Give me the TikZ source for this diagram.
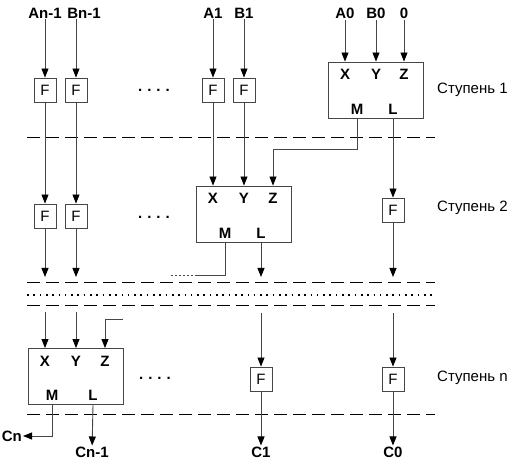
\documentclass[tikz,border=0pt]{standalone}
\usepackage{fontspec}
\setmainfont{Liberation Sans}
\usetikzlibrary{arrows.meta}
\definecolor{wiregray}{RGB}{70,70,70}
\newcommand{\fsz}{\fontsize{15}{17}\selectfont}
\tikzset{
  fbox/.style={draw=wiregray,line width=0.9pt,minimum width=22pt,minimum height=24pt,inner sep=0pt,font=\fsz},
  blk/.style={draw=wiregray,line width=0.9pt,minimum width=95pt,minimum height=56pt,inner sep=0pt},
  sig/.style={inner sep=1pt,font=\fsz\bfseries},
  port/.style={inner sep=0pt,font=\fsz\bfseries},
  stage/.style={anchor=west,inner sep=0pt,font=\fsz},
  dots/.style={inner sep=0pt,font=\fsz\bfseries},
  wire/.style={draw=wiregray,line width=0.9pt},
  arr/.style={wire,-{Triangle[length=9pt,width=7pt,color=black]}},
  sep/.style={draw=black,line width=1pt,dash pattern=on 12.5pt off 6.5pt},
  gap/.style={draw=black,line width=1.6pt,dash pattern=on 1.6pt off 4.7pt},
}
\begin{document}
\begin{tikzpicture}[x=1pt,y=-1pt]
\useasboundingbox (0,0) rectangle (520,462);
% input signals
\node[sig] (an) at (45,13) {An-1};
\node[sig] (bn) at (84,13) {Bn-1};
\node[sig] (a1) at (213,13) {A1};
\node[sig] (b1) at (244,13) {B1};
\node[sig] (a0) at (345,13) {A0};
\node[sig] (b0) at (376,13) {B0};
\node[sig] (zero) at (404,13) {0};

% stage 1
\node[fbox] (f1a) at (45,90) {F};
\node[fbox] (f1b) at (76,90) {F};
\node[fbox] (f1c) at (213,90) {F};
\node[fbox] (f1d) at (244,90) {F};
\node[dots] (d1) at (154,90) {.\hspace{5pt}.\hspace{5pt}.\hspace{5pt}.};
\node[blk] (s1) at (375.5,90) {};
\node[port] (s1x) at (345,74) {X};
\node[port] (s1y) at (376,74) {Y};
\node[port] (s1z) at (404,74) {Z};
\node[port] (s1m) at (357,109) {M};
\node[port] (s1l) at (393,109) {L};
\node[stage] at (437,90) {Ступень 1};
\draw[arr] (an) -- (f1a);
\draw[arr] (f1b |- bn.south) -- (f1b);
\draw[arr] (a1) -- (f1c);
\draw[arr] (b1) -- (f1d);
\draw[arr] (a0) -- (a0 |- s1.north);
\draw[arr] (b0) -- (b0 |- s1.north);
\draw[arr] (zero) -- (zero |- s1.north);

\draw[sep] (27,138) -- (435,138);

% stage 2
\node[fbox] (f2a) at (45,216) {F};
\node[fbox] (f2b) at (76,216) {F};
\node[fbox] (f2c) at (393,210) {F};
\node[dots] (d2) at (154,217) {.\hspace{5pt}.\hspace{5pt}.\hspace{5pt}.};
\node[blk] (s2) at (243.5,214) {};
\node[port] (s2x) at (213,198) {X};
\node[port] (s2y) at (244,198) {Y};
\node[port] (s2z) at (273,198) {Z};
\node[port] (s2m) at (225,233) {M};
\node[port] (s2l) at (261,233) {L};
\node[stage] at (437,208) {Ступень 2};
\draw[arr] (f1a) -- (f2a);
\draw[arr] (f1b) -- (f2b);
\draw[arr] (f1c) -- (f1c |- s2.north);
\draw[arr] (f1d) -- (f1d |- s2.north);
\draw[arr] (s1m |- s1.south) -- ++(0,31) -| (s2z |- s2.north);
\draw[arr] (s1l |- s1.south) -- (f2c);
\coordinate (e2a) at (45,277);
\coordinate (e2b) at (76,277);
\coordinate (e2c) at (393,277);
\coordinate (e2l) at (261,277);
\coordinate (m2) at (197,275);
\coordinate (m2end) at (170,275);
\draw[arr] (f2a) -- (e2a);
\draw[arr] (f2b) -- (e2b);
\draw[arr] (f2c) -- (e2c);
\draw[arr] (s2l |- s2.south) -- (e2l);
\draw[wire] (s2m |- s2.south) |- (m2);
\draw[wire,line width=0.7pt,dash pattern=on 2.5pt off 1.5pt] (m2) -- (m2end);

\draw[sep] (27,283) -- (435,283);
\draw[gap] (27,295) -- (435,295);
\draw[sep] (27,306) -- (435,306);

% stage n
\node[blk] (s3) at (76,376.5) {};
\node[port] (s3x) at (45,361) {X};
\node[port] (s3y) at (76,361) {Y};
\node[port] (s3z) at (105,361) {Z};
\node[port] (s3m) at (52,395) {M};
\node[port] (s3l) at (93,395) {L};
\node[fbox] (f3a) at (261,379) {F};
\node[fbox] (f3b) at (393,379) {F};
\node[dots] (d3) at (155,378) {.\hspace{5pt}.\hspace{5pt}.\hspace{5pt}.};
\node[stage] at (437,378) {Ступень n};
\coordinate (i3a) at (45,312);
\coordinate (i3b) at (76,312);
\coordinate (i3z) at (123,319);
\coordinate (i3c) at (261,313);
\coordinate (i3d) at (393,313);
\draw[arr] (i3a) -- (i3a |- s3.north);
\draw[arr] (i3b) -- (i3b |- s3.north);
\draw[arr] (i3z) -| (s3z |- s3.north);
\draw[arr] (i3c) -- (f3a);
\draw[arr] (i3d) -- (f3b);

\draw[sep] (27,415) -- (435,415);

% outputs
\node[sig,anchor=east] (cn) at (23,436) {Cn};
\node[sig] (cn1) at (92,452) {Cn-1};
\node[sig] (c1) at (261,452) {C1};
\node[sig] (c0) at (393,452) {C0};
\draw[arr] (s3m |- s3.south) |- (cn);
\draw[arr] (s3l |- s3.south) -- (cn1);
\draw[arr] (f3a) -- (c1);
\draw[arr] (f3b) -- (c0);
\end{tikzpicture}
\end{document}
